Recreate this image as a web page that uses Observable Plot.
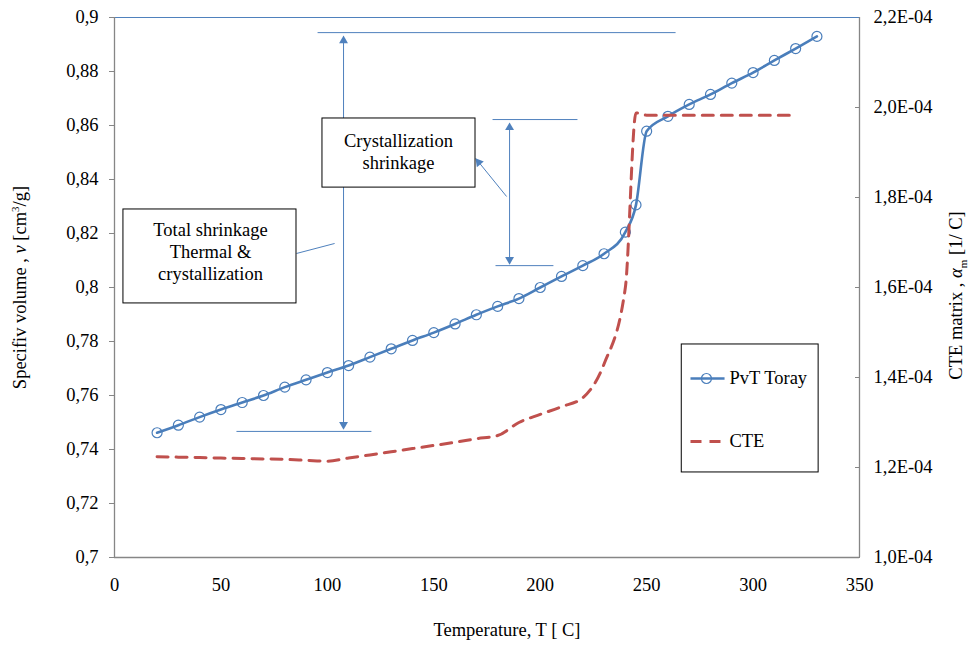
<!DOCTYPE html>
<html>
<head>
<meta charset="utf-8">
<script src="https://cdn.jsdelivr.net/npm/d3@7"></script>
<script src="https://cdn.jsdelivr.net/npm/@observablehq/plot@0.6"></script>
<style>
  html, body { margin: 0; padding: 0; background: #fff; }
  #chart { width: 971px; height: 646px; }
</style>
</head>
<body>
<div id="chart"></div>
<script>
// ---------- data ----------
const pvtTemps = [20,30,40,50,60,70,80,90,100,110,120,130,140,150,160,170,180,190,200,210,220,230,240,245,250,260,270,280,290,300,310,320,330];
const pvtVolume = [0.7462,0.7490,0.7520,0.7548,0.7574,0.7600,0.7631,0.7658,0.7685,0.7711,0.7742,0.7773,0.7804,0.7833,0.7865,0.7899,0.7930,0.7959,0.8000,0.8041,0.8081,0.8125,0.8205,0.8306,0.8579,0.8634,0.8678,0.8715,0.8757,0.8796,0.8841,0.8885,0.8930];

const cteTemps = [20,30,40,50,60,70,80,90,100,110,120,130,140,150,160,170,180,190,200,210,220,230,240,245,250,260,270,280,290,300,310,320];
const cteValues = [1.224e-4,1.223e-4,1.222e-4,1.221e-4,1.220e-4,1.219e-4,1.218e-4,1.216e-4,1.214e-4,
                   1.221e-4,1.228e-4,1.235e-4,1.242e-4,1.249e-4,1.256e-4,1.264e-4,1.271e-4,
                   1.300e-4,1.318e-4,1.335e-4,1.355e-4,1.430e-4,1.600e-4,1.988e-4,1.983e-4,
                   1.983e-4,1.983e-4,1.983e-4,1.983e-4,1.983e-4,1.983e-4,1.983e-4];

const xTicks = [0,50,100,150,200,250,300,350];
const leftTicks = [0.7,0.72,0.74,0.76,0.78,0.8,0.82,0.84,0.86,0.88,0.9];
const rightTicks = [1.0e-4,1.2e-4,1.4e-4,1.6e-4,1.8e-4,2.0e-4,2.2e-4];

const seriesNames = ["PvT Toray", "CTE"];
const xLabel = "Temperature, T [ C]";
const leftLabel = "Specifiv volume , v [cm3/g]";
const rightLabel = "CTE matrix , αm [1/ C]";

// annotation geometry (data coordinates)
const annotationLines = [
  {x1: 95.4,  y1: 0.8944, x2: 263.6, y2: 0.8944},
  {x1: 57.3,  y1: 0.7467, x2: 120.7, y2: 0.7467},
  {x1: 107.6, y1: 0.8930, x2: 107.6, y2: 0.7478},
  {x1: 177.6, y1: 0.8622, x2: 217.5, y2: 0.8622},
  {x1: 179.0, y1: 0.8081, x2: 206.2, y2: 0.8081},
  {x1: 185.6, y1: 0.8608, x2: 185.6, y2: 0.8088},
  {x1: 184.2, y1: 0.8337, x2: 169.8, y2: 0.8477},
  {x1: 85.5,  y1: 0.8126, x2: 103.4, y2: 0.8163}
];
const arrowUp = [{x: 107.6, y: 0.8933}, {x: 185.6, y: 0.8611}];
const arrowDown = [{x: 107.6, y: 0.7474}, {x: 185.6, y: 0.8085}];
const arrowDiag = [{x: 169.6, y: 0.8478}];
const annotationBoxes = [
  {x1: 97.7, x2: 169.6, y1: 0.8370, y2: 0.8626, cx: 133.4, cy: 0.8507, label: "Crystallization\nshrinkage"},
  {x1: 4.2,  x2: 85.5,  y1: 0.7941, y2: 0.8289, cx: 45.1,  cy: 0.8134, label: "Total shrinkage\nThermal &\ncrystallization"}
];
const legendBox = [{x1: 266.5, x2: 330.8, y1: 0.7315, y2: 0.7789}];
const legendRows = [
  {name: seriesNames[0], x1: 270.6, x2: 286.6, xm: 278.1, xt: 288.9, y: 0.7663},
  {name: seriesNames[1], x1: 270.6, x2: 286.6, xm: 278.1, xt: 288.9, y: 0.7430}
];

// ---------- helpers ----------
const vMin = 0.7, vMax = 0.9, cMin = 1.0e-4, cMax = 2.2e-4;
const toLeft = c => vMin + (c - cMin) / (cMax - cMin) * (vMax - vMin);
const fromLeft = v => cMin + (v - vMin) / (vMax - vMin) * (cMax - cMin);
const fmtLeft = d => d.toFixed(2).replace(/0$/, "").replace(".", ",");
const fmtRight = d => (fromLeft(d) * 1e4).toFixed(1).replace(".", ",") + "E-04";

const pvt = pvtTemps.map((t, i) => ({t, v: pvtVolume[i]}));
const cte = cteTemps.map((t, i) => ({t, c: cteValues[i]}));

const blue = "#4A7EBB", red = "#C0504D", axisGray = "#868686", annBlue = "#4F81BD";
const font = "'Liberation Serif', 'Times New Roman', Times, serif";
const fs = 18.5;

const chart = Plot.plot({
  width: 971,
  height: 646,
  marginLeft: 114,
  marginRight: 112,
  marginTop: 17,
  marginBottom: 89,
  style: {fontFamily: font, fontSize: fs + "px", color: "#000", background: "#fff", overflow: "visible"},
  x: {domain: [0, 350]},
  y: {domain: [vMin, vMax]},
  marks: [
    // axes
    Plot.axisX({ticks: xTicks, tickSize: 0, tickPadding: 20, label: null, tickFormat: d => String(d)}),
    Plot.axisY({ticks: leftTicks, tickSize: 5, tickPadding: 11, tickFormat: fmtLeft, stroke: axisGray, label: null}),
    Plot.axisY({anchor: "right", ticks: rightTicks.map(toLeft), tickSize: 5, dx: -5, tickFormat: () => "", stroke: axisGray, label: null}),
    Plot.axisY({anchor: "right", ticks: rightTicks.map(toLeft), tickSize: 0, tickPadding: 14, tickFormat: fmtRight, label: null}),
    Plot.ruleY([vMax], {stroke: annBlue, strokeWidth: 1}),
    Plot.ruleX([0], {stroke: axisGray, strokeWidth: 1.3}),
    Plot.ruleX([350], {stroke: axisGray, strokeWidth: 1.3}),
    Plot.ruleY([vMin], {stroke: axisGray, strokeWidth: 1.3}),

    // annotations (lines + arrowheads)
    Plot.link(annotationLines, {x1: "x1", y1: "y1", x2: "x2", y2: "y2", stroke: annBlue, strokeWidth: 1}),
    Plot.dot(arrowUp, {x: "x", y: "y", symbol: "triangle", r: 3.3, fill: annBlue, stroke: "none", dy: 5}),
    Plot.dot(arrowDown, {x: "x", y: "y", symbol: "triangle", r: 3.3, fill: annBlue, stroke: "none", rotate: 180, dy: -5}),
    Plot.dot(arrowDiag, {x: "x", y: "y", symbol: "triangle", r: 3.3, fill: annBlue, stroke: "none", rotate: -39, dx: 3.2, dy: 3.9}),

    // data series
    Plot.line(pvt, {x: "t", y: "v", stroke: blue, strokeWidth: 2.6, curve: "monotone-x"}),
    Plot.dot(pvt, {x: "t", y: "v", r: 5, stroke: blue, fill: "none", strokeWidth: 1.2}),
    Plot.line(cte, {x: "t", y: d => toLeft(d.c), stroke: red, strokeWidth: 3, strokeDasharray: "11,8", curve: "monotone-x"}),

    // annotation boxes
    Plot.rect(annotationBoxes, {x1: "x1", x2: "x2", y1: "y1", y2: "y2", fill: "#fff", stroke: "#000", strokeWidth: 1}),
    Plot.text(annotationBoxes, {x: "cx", y: "cy", text: "label", fontSize: fs, lineHeight: 1.18, fill: "#000"}),

    // legend
    Plot.rect(legendBox, {x1: "x1", x2: "x2", y1: "y1", y2: "y2", fill: "#fff", stroke: "#000", strokeWidth: 1}),
    Plot.link(legendRows.slice(0, 1), {x1: "x1", x2: "x2", y1: "y", y2: "y", stroke: blue, strokeWidth: 2.6}),
    Plot.dot(legendRows.slice(0, 1), {x: "xm", y: "y", r: 5, stroke: blue, fill: "none", strokeWidth: 1.2}),
    Plot.link(legendRows.slice(1, 2), {x1: "x1", x2: "x2", y1: "y", y2: "y", stroke: red, strokeWidth: 3, strokeDasharray: "11,8"}),
    Plot.text(legendRows, {x: "xt", y: "y", text: "name", textAnchor: "start", fontSize: fs, fill: "#000"}),

    // axis titles
    Plot.text([xLabel], {frameAnchor: "bottom", dx: 20, dy: 78, fontSize: fs, fill: "#000"}),
    Plot.text([leftLabel], {frameAnchor: "left", rotate: -90, dx: -94, fontSize: fs, fill: "#000", textAnchor: "middle"}),
    Plot.text([rightLabel], {frameAnchor: "right", rotate: -90, dx: 97, dy: 8, fontSize: fs, fill: "#000", textAnchor: "middle"})
  ]
});

document.getElementById("chart").appendChild(chart);

// rich-text formatting for axis titles (italic v, superscript 3, subscript m)
const NS = "http://www.w3.org/2000/svg";
function rich(textEl, parts) {
  textEl.textContent = "";
  textEl.setAttribute("text-anchor", "middle");
  for (const p of parts) {
    const ts = document.createElementNS(NS, "tspan");
    ts.textContent = p.s;
    if (p.italic) ts.setAttribute("font-style", "italic");
    if (p.size) ts.setAttribute("font-size", p.size);
    if (p.dy) ts.setAttribute("dy", p.dy);
    textEl.appendChild(ts);
  }
}
for (const t of chart.querySelectorAll("text")) {
  if (t.textContent === leftLabel) {
    rich(t, [
      {s: "Specifiv volume , "},
      {s: "v", italic: true},
      {s: " [cm"},
      {s: "3", size: "11px", dy: "-7"},
      {s: "/g]", dy: "7"}
    ]);
  } else if (t.textContent === rightLabel) {
    rich(t, [
      {s: "CTE matrix , "},
      {s: "α", italic: true},
      {s: "m", size: "11px", dy: "5"},
      {s: " [1/ C]", dy: "-5"}
    ]);
  }
}
</script>
</body>
</html>
